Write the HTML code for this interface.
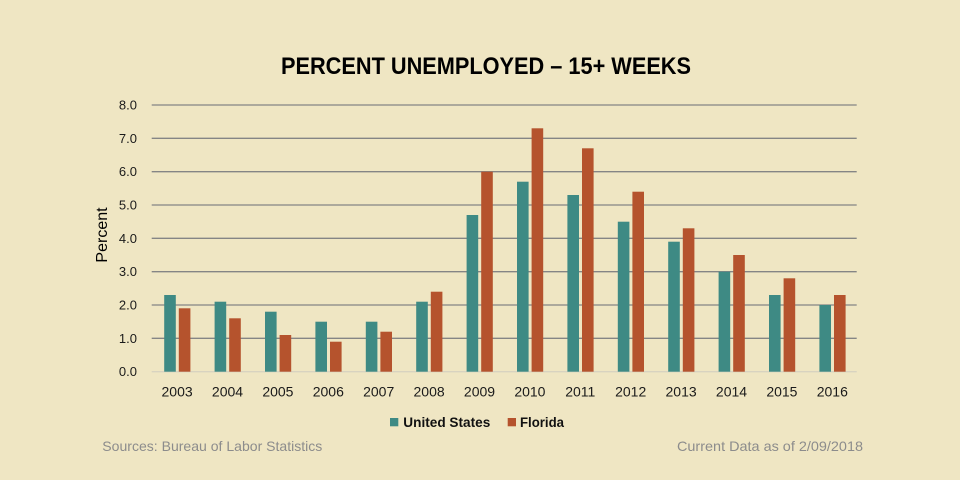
<!DOCTYPE html>
<html><head><meta charset="utf-8"><style>
html,body{margin:0;padding:0;background:#EFE6C3;}
svg{display:block;}
</style></head><body>
<svg width="960" height="480" viewBox="0 0 960 480" xmlns="http://www.w3.org/2000/svg" font-family="'Liberation Sans', sans-serif">
<rect width="960" height="480" fill="#EFE6C3"/>
<text x="281" y="74" font-size="24" font-weight="bold" fill="#000" textLength="410" lengthAdjust="spacingAndGlyphs">PERCENT UNEMPLOYED – 15+ WEEKS</text>
<g stroke="#858585" stroke-width="1.3">
<line x1="151.7" y1="105" x2="856.7" y2="105"/>
<line x1="151.7" y1="138.3" x2="856.7" y2="138.3"/>
<line x1="151.7" y1="171.7" x2="856.7" y2="171.7"/>
<line x1="151.7" y1="205" x2="856.7" y2="205"/>
<line x1="151.7" y1="238.3" x2="856.7" y2="238.3"/>
<line x1="151.7" y1="271.7" x2="856.7" y2="271.7"/>
<line x1="151.7" y1="305" x2="856.7" y2="305"/>
<line x1="151.7" y1="338.3" x2="856.7" y2="338.3"/>
</g>
<line x1="151.7" y1="371.7" x2="856.7" y2="371.7" stroke="#D8D3C0" stroke-width="1.3"/>
<g font-size="13" fill="#1a1a1a" text-anchor="end">
<text x="137" y="109.5">8.0</text>
<text x="137" y="142.8">7.0</text>
<text x="137" y="176.2">6.0</text>
<text x="137" y="209.5">5.0</text>
<text x="137" y="242.8">4.0</text>
<text x="137" y="276.2">3.0</text>
<text x="137" y="309.5">2.0</text>
<text x="137" y="342.8">1.0</text>
<text x="137" y="376.2">0.0</text>
</g>
<text transform="translate(107,235) rotate(-90)" font-size="16" fill="#000" text-anchor="middle">Percent</text>
<g fill="#3E8A84">
<rect x="164.2" y="295.0" width="11.6" height="76.7"/>
<rect x="214.6" y="301.7" width="11.6" height="70.0"/>
<rect x="265.0" y="311.7" width="11.6" height="60.0"/>
<rect x="315.4" y="321.7" width="11.6" height="50.0"/>
<rect x="365.8" y="321.7" width="11.6" height="50.0"/>
<rect x="416.2" y="301.7" width="11.6" height="70.0"/>
<rect x="466.6" y="215.0" width="11.6" height="156.7"/>
<rect x="517.0" y="181.7" width="11.6" height="190.0"/>
<rect x="567.4" y="195.0" width="11.6" height="176.7"/>
<rect x="617.8" y="221.7" width="11.6" height="150.0"/>
<rect x="668.2" y="241.7" width="11.6" height="130.0"/>
<rect x="718.6" y="271.7" width="11.6" height="100.0"/>
<rect x="769.0" y="295.0" width="11.6" height="76.7"/>
<rect x="819.4" y="305.0" width="11.6" height="66.7"/>
</g>
<g fill="#B5532D">
<rect x="178.8" y="308.3" width="11.6" height="63.4"/>
<rect x="229.2" y="318.3" width="11.6" height="53.4"/>
<rect x="279.6" y="335.0" width="11.6" height="36.7"/>
<rect x="330.0" y="341.7" width="11.6" height="30.0"/>
<rect x="380.4" y="331.7" width="11.6" height="40.0"/>
<rect x="430.8" y="291.7" width="11.6" height="80.0"/>
<rect x="481.2" y="171.7" width="11.6" height="200.0"/>
<rect x="531.6" y="128.3" width="11.6" height="243.4"/>
<rect x="582.0" y="148.3" width="11.6" height="223.4"/>
<rect x="632.4" y="191.7" width="11.6" height="180.0"/>
<rect x="682.8" y="228.3" width="11.6" height="143.4"/>
<rect x="733.2" y="255.0" width="11.6" height="116.7"/>
<rect x="783.6" y="278.3" width="11.6" height="93.4"/>
<rect x="834.0" y="295.0" width="11.6" height="76.7"/>
</g>
<g font-size="14" fill="#1a1a1a" text-anchor="middle">
<text x="177.1" y="396.5">2003</text>
<text x="227.5" y="396.5">2004</text>
<text x="277.9" y="396.5">2005</text>
<text x="328.3" y="396.5">2006</text>
<text x="378.7" y="396.5">2007</text>
<text x="429.1" y="396.5">2008</text>
<text x="479.5" y="396.5">2009</text>
<text x="529.9" y="396.5">2010</text>
<text x="580.3" y="396.5">2011</text>
<text x="630.7" y="396.5">2012</text>
<text x="681.1" y="396.5">2013</text>
<text x="731.5" y="396.5">2014</text>
<text x="781.9" y="396.5">2015</text>
<text x="832.3" y="396.5">2016</text>
</g>
<rect x="390" y="418" width="8.3" height="8.3" fill="#3E8A84"/>
<text x="403.3" y="427" font-size="14" font-weight="bold" fill="#111" textLength="87" lengthAdjust="spacingAndGlyphs">United States</text>
<rect x="507.7" y="418" width="8.3" height="8.3" fill="#B5532D"/>
<text x="520" y="427" font-size="14" font-weight="bold" fill="#111" textLength="44" lengthAdjust="spacingAndGlyphs">Florida</text>
<text x="102.3" y="451" font-size="14" fill="#8C8C8C" textLength="220" lengthAdjust="spacingAndGlyphs">Sources: Bureau of Labor Statistics</text>
<text x="677" y="451" font-size="14" fill="#8C8C8C" textLength="186" lengthAdjust="spacingAndGlyphs">Current Data as of 2/09/2018</text>
</svg>
</body></html>
